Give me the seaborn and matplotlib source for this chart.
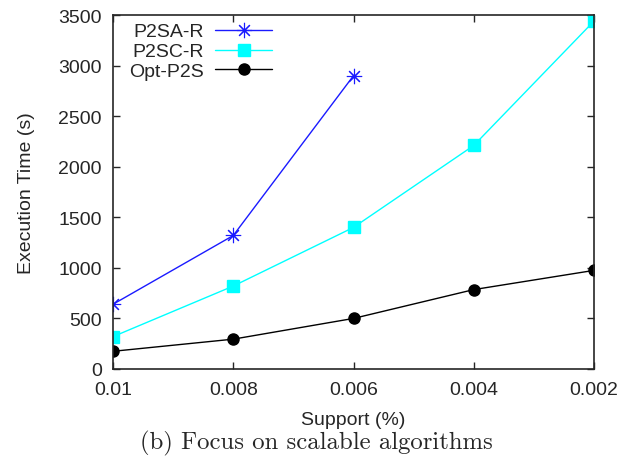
import pandas as pd
import matplotlib
matplotlib.use("Agg")
import matplotlib.pyplot as plt
import seaborn as sns

# Values
support = ["0.01", "0.008", "0.006", "0.004", "0.002"]
p2sa_r = [640, 1320, 2900]
p2sc_r = [320, 820, 1400, 2210, 3440]
opt_p2s = [175, 295, 500, 785, 975]

series = {"P2SA-R": p2sa_r, "P2SC-R": p2sc_r, "Opt-P2S": opt_p2s}
colors = {"P2SA-R": "#1a1aff", "P2SC-R": "#00ffff", "Opt-P2S": "black"}
markers = {"P2SA-R": (8, 2, 0), "P2SC-R": "s", "Opt-P2S": "o"}
msizes = {"P2SA-R": 11, "P2SC-R": 8, "Opt-P2S": 8}
mew = {"P2SA-R": 0.8, "P2SC-R": 1, "Opt-P2S": 1}

sns.set_style("ticks")
plt.rcParams["font.family"] = ["Liberation Sans", "DejaVu Sans"]

fig = plt.figure(figsize=(6.19, 4.64), dpi=100)
ax = fig.add_axes([0.1826, 0.2026, 0.777, 0.7629])

for name, vals in series.items():
    df = pd.DataFrame({"Support": support[:len(vals)], "Time": vals})
    sns.lineplot(data=df, x="Support", y="Time", color=colors[name],
                 marker=markers[name], markersize=msizes[name],
                 markeredgewidth=mew[name], markeredgecolor=colors[name],
                 linewidth=1, sort=False, label=name, ax=ax)

ax.set_xticks(range(len(support)))
ax.set_xticklabels(support)
ax.set_xlim(0, 4)
ax.set_ylim(0, 3500)
ax.set_yticks(range(0, 3501, 500))
ax.set_xlabel("Support (%)", fontsize=14, labelpad=9)
ax.set_ylabel("Execution Time (s)", fontsize=14, labelpad=17)
ax.tick_params(direction="in", top=True, right=True, labelsize=14, length=5, width=1, pad=8)
ax.tick_params(axis="x", pad=9)
for sp in ax.spines.values():
    sp.set_linewidth(1.2)
    sp.set_visible(True)

handles, labels = ax.get_legend_handles_labels()
ax.legend(handles, labels, loc="upper left", frameon=False, markerfirst=False,
          fontsize=14, handlelength=2.9, handletextpad=0.6, labelspacing=0.12,
          borderaxespad=0.0, bbox_to_anchor=(0.017, 1.0))

fig.text(0.511, 0.0323, "(b) Focus on scalable algorithms", ha="center", va="baseline",
         fontsize=17.8, family=["cmr10"])

fig.savefig("out.png", dpi=100)
